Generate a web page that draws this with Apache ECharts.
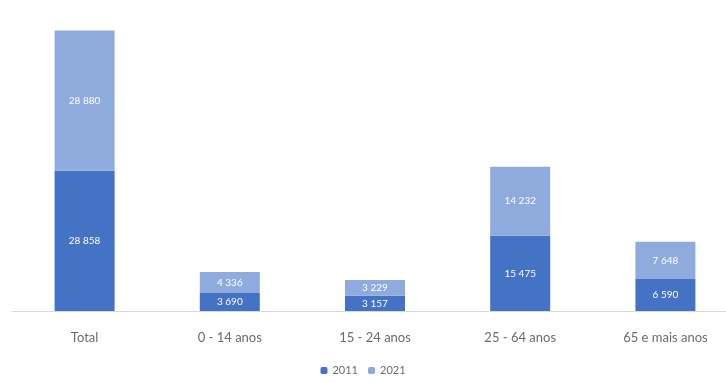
<!DOCTYPE html>
<html>
  <head>
    <meta charset="utf-8" />
    <title>População por grupo etário</title>
    <script src="https://cdn.jsdelivr.net/npm/echarts@6/dist/echarts.min.js"></script>
    <style>
      body { margin: 0; background: #fff; }
      #chart { width: 726px; height: 383px; }
    </style>
  </head>
  <body>
    <div id="chart"></div>
    <script>
      const categories = ['Total', '0 - 14 anos', '15 - 24 anos', '25 - 64 anos', '65 e mais anos'];
      const values2011 = [28858, 3690, 3157, 15475, 6590];
      const values2021 = [28880, 4336, 3229, 14232, 7648];

      const fmt = v => String(v).replace(/\B(?=(\d{3})+(?!\d))/g, ' ');

      const label = {
        show: true,
        position: 'inside',
        color: '#fff',
        fontSize: 10,
        fontFamily: 'Lato',
        formatter: p => fmt(p.value)
      };

      const chart = echarts.init(document.getElementById('chart'));
      chart.setOption({
        animation: false,
        textStyle: { fontFamily: 'Lato' },
        grid: { left: 12, right: -12, top: 0, bottom: 72, outerBoundsMode: 'none' },
        xAxis: {
          type: 'category',
          data: categories,
          axisTick: { show: false },
          axisLine: { lineStyle: { color: '#d9d9d9', width: 1 } },
          axisLabel: { color: '#6b6b6b', fontSize: 13, margin: 20, interval: 0 }
        },
        yAxis: {
          type: 'value',
          min: 0,
          max: 64000,
          show: false
        },
        legend: {
          bottom: 2,
          left: 'center',
          itemWidth: 7,
          itemHeight: 7,
          itemGap: 10,
          textStyle: { color: '#6b6b6b', fontSize: 11 },
          data: ['2011', '2021']
        },
        series: [
          {
            name: '2011',
            type: 'bar',
            stack: 'a',
            barWidth: 60,
            data: values2011,
            itemStyle: { color: '#4472C4' },
            label: label
          },
          {
            name: '2021',
            type: 'bar',
            stack: 'a',
            barWidth: 60,
            data: values2021,
            itemStyle: { color: '#8FAADC' },
            label: label
          }
        ]
      });
    </script>
  </body>
</html>
